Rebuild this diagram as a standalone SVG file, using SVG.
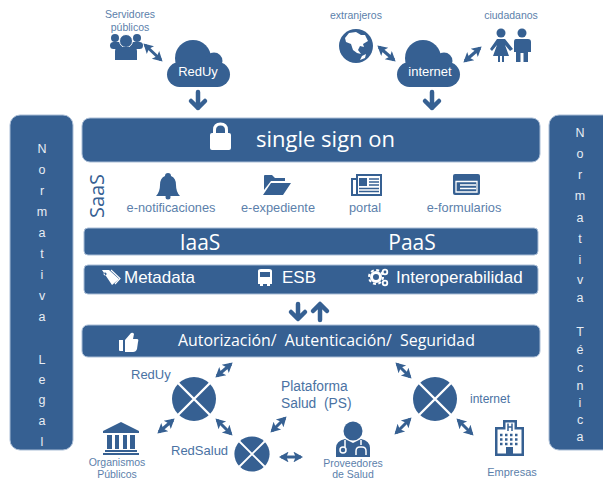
<svg xmlns="http://www.w3.org/2000/svg" xmlns:xlink="http://www.w3.org/1999/xlink" width="603" height="480" viewBox="0 0 603 480">
<style>
.b{fill:#366092;stroke:#a9bdd6;stroke-width:1}
.i{fill:#366092}
.w{fill:#fff}
.ws{fill:none;stroke:#fff;stroke-linecap:butt}
.bs{fill:none;stroke:#366092}
text{font-family:"Liberation Sans",Arial,sans-serif;white-space:pre}
.l{fill:#5c7fab;font-size:10.5px;text-anchor:middle}
.n{fill:#5c7fab;font-size:12.8px;text-anchor:middle}
.m{fill:#4a72a3;font-size:13px}
.o{font-family:"Open Sans","Noto Sans",sans-serif;fill:#fff}
.s{fill:#fff;font-size:17px}
.t{fill:#e8edf4;font-size:12.5px;text-anchor:middle}
.c{fill:#fff;font-size:13px;text-anchor:middle}
.a{fill:none;stroke:#366092;stroke-width:3;marker-start:url(#h);marker-end:url(#h)}
.d{fill:none;stroke:#366092;stroke-width:4.5;stroke-linecap:round;stroke-linejoin:round}
</style>
<defs>
<marker id="h" viewBox="0 0 10 10" refX="8" refY="5" markerWidth="3.6" markerHeight="3.6" orient="auto-start-reverse"><path d="M1 0L10 5L1 10L3 5Z" fill="#366092"/></marker>
<g id="cloud"><rect x="167" y="62" width="63" height="25" rx="12.500" class="i"/><circle cx="193" cy="58" r="18" class="i"/><circle cx="214" cy="61" r="8.500" class="i"/><rect x="185" y="60" width="30" height="10" class="i"/></g>
<g id="hub"><circle r="22" class="i"/><path d="M-16 -16L16 16M-16 16L16 -16" class="ws" stroke-width="2.400"/></g>
</defs>

<g id="normativa-legal"><rect x="10" y="115" width="63" height="335" rx="10" class="b"/>
<text class="t" x="42" y="153">N</text><text class="t" x="42" y="174">o</text><text class="t" x="42" y="195">r</text><text class="t" x="42" y="216">m</text><text class="t" x="42" y="237">a</text><text class="t" x="42" y="258">t</text><text class="t" x="42" y="279">i</text><text class="t" x="42" y="300">v</text><text class="t" x="42" y="321">a</text><text class="t" x="42" y="364">L</text><text class="t" x="42" y="384">e</text><text class="t" x="42" y="404">g</text><text class="t" x="42" y="425">a</text><text class="t" x="42" y="446">l</text></g>
<g id="normativa-tecnica"><rect x="549" y="115" width="70" height="335" rx="10" class="b"/>
<text class="t" x="580" y="137">N</text><text class="t" x="580" y="158">o</text><text class="t" x="580" y="179">r</text><text class="t" x="580" y="200">m</text><text class="t" x="580" y="222">a</text><text class="t" x="580" y="243">t</text><text class="t" x="580" y="264">i</text><text class="t" x="580" y="284">v</text><text class="t" x="580" y="302">a</text><text class="t" x="580" y="336">T</text><text class="t" x="580" y="354">é</text><text class="t" x="580" y="372">c</text><text class="t" x="580" y="390">n</text><text class="t" x="580" y="407">i</text><text class="t" x="580" y="424">c</text><text class="t" x="580" y="441">a</text></g>

<g id="connectors">
<path class="a" d="M145 45L161 60"/><path class="a" d="M379 47L394 60"/><path class="a" d="M480 48L465 61"/>
<path class="d" d="M198 92V108M191 101L198 108L205 101"/><path class="d" d="M432 92V108M425 101L432 108L439 101"/>
<path class="d" d="M298 304V318M291 312L298 319L305 312"/><path class="d" d="M320 320V305M313 311L320 304L327 311"/>
<path class="a" d="M231 364L217 376"/><path class="a" d="M173 420L159 432"/><path class="a" d="M217 420L231 434"/><path class="a" d="M285 418L272 431"/><path class="a" d="M281 457H301"/>
<path class="a" d="M397 364L410 377"/><path class="a" d="M410 419L396 433"/><path class="a" d="M458 420L472 434"/>
</g>

<g id="servidores"><text class="l" x="130" y="18">Servidores</text><text class="l" x="130" y="31">públicos</text>
<circle cx="115" cy="38" r="4" class="i"/><circle cx="137" cy="38" r="4" class="i"/><rect x="110" y="42" width="33" height="7" rx="3.500" class="i"/><circle cx="126" cy="41" r="6.500" class="i" stroke="#fff"/><path d="M115 60V51Q115 47 120 47H132Q137 47 137 51V60H115Z" class="i"/></g>
<g id="reduy-cloud"><use href="#cloud"/><text class="c" x="198" y="76">RedUy</text></g>
<g id="extranjeros"><text class="l" x="356" y="19">extranjeros</text><circle cx="356" cy="46" r="17" class="i"/>
<path class="w" d="M349 33L356 32L361 35L365 35L368 41L363 44L364 47L360 46L358 50L361 54L357 53L353 50L351 44L346 42L345 38ZM362 56L366 54L365 58L360 60Z"/></g>
<g id="internet-cloud"><use href="#cloud" x="230"/><text class="c" x="430" y="76">internet</text></g>
<g id="ciudadanos"><text class="l" x="511" y="19">ciudadanos</text>
<circle cx="501" cy="33" r="4.500" class="i"/><path class="i" d="M497 39H505L513 49L510 51L505 45L509 56H504V62H502V56H500V62H498V56H493L497 45L492 51L490 49Z"/>
<circle cx="522" cy="33" r="4.500" class="i"/><path class="i" d="M516 39H528Q531 39 531 42V52H528V62H523.500V53H520.500V62H516V52H514V42Q514 39 516 39Z"/></g>

<g id="sso"><rect x="82" y="118" width="458" height="44" rx="8" class="b"/>
<path d="M214.500 134V130Q214.500 124 220.500 124Q226.500 124 226.500 130V134" fill="none" stroke="#fff" stroke-width="3"/><rect x="210" y="133" width="21" height="17" rx="2" class="w"/>
<text class="o" x="256" y="147" font-size="22">single sign on</text></g>

<g id="saas"><text font-size="20" fill="#366092" text-anchor="middle" transform="translate(104 196) rotate(-90)" style="font-family:'Open Sans','Noto Sans',sans-serif">SaaS</text></g>
<g id="e-notificaciones"><path class="i" d="M168 173Q171 173 171 176Q176 178 176 185Q176 192 180 196H156Q160 192 160 185Q160 178 165 176Q165 173 168 173Z"/><circle cx="168" cy="197" r="2.500" class="i"/><text class="n" x="171" y="212">e-notificaciones</text></g>
<g id="e-expediente"><path class="i" d="M264 190V176Q264 175 265 175H272L275 178H285V181H271L264 190ZM271 183H291L283 195H263Z"/><text class="n" x="278" y="212">e-expediente</text></g>
<g id="portal"><path class="i" d="M351 178H356V174H382V196H351ZM353 180V194H356V180Z" fill-rule="evenodd"/><rect x="358" y="176" width="22" height="18" class="w"/><rect x="359" y="178" width="8" height="8" class="i"/><path class="bs" d="M369 179H379M369 182H379M369 185H379M359 188.500H379M359 191.500H379" stroke-width="1.300"/><text class="n" x="365" y="212">portal</text></g>
<g id="e-formularios"><rect x="453" y="174" width="27" height="21" rx="2" class="i"/><path class="ws" d="M456 181.500H477V192H456ZM460 185H476M460 188.500H476" stroke-width="1.300"/><text class="n" x="464" y="212">e-formularios</text></g>

<g id="iaas-paas"><rect x="84" y="228" width="454" height="27" rx="4" class="b"/><text class="o" x="200" y="250" font-size="21" text-anchor="middle">IaaS</text><text class="o" x="412" y="250" font-size="21" text-anchor="middle">PaaS</text></g>

<g id="servicios"><rect x="84" y="265" width="454" height="29" rx="4" class="b"/>
<path class="w" d="M102 270H109L119 279L112 285ZM105 272.500A1.500 1.500 0 1 0 105.100 272.500Z" fill-rule="evenodd"/><path d="M111 270L120 278.500L115 284" fill="none" stroke="#fff" stroke-width="1.200"/>
<path class="w" d="M258 271Q258 269 261 269H269Q272 269 272 271V284H270V286H267V284H263V286H260V284H258ZM260 272V277H270V272Z" fill-rule="evenodd"/>
<circle cx="376" cy="277" r="4.500" class="ws" stroke-width="3"/><circle cx="376" cy="277" r="7" class="ws" stroke-width="2" stroke-dasharray="3 2.500"/><circle cx="385" cy="272" r="2.300" class="ws" stroke-width="1.800"/><circle cx="385" cy="283" r="2.300" class="ws" stroke-width="1.800"/>
<text class="s" x="124" y="283">Metadata</text><text class="s" x="282" y="283">ESB</text><text class="s" x="396" y="283">Interoperabilidad</text></g>

<g id="seguridad"><rect x="82" y="325" width="458" height="32" rx="6" class="b"/>
<path class="w" d="M119 340H123V351H120Q119 351 119 350ZM125 340L131 333Q133 332 134 334L133 339H137Q139 339 138 342L137 349Q136 352 133 352H125Z"/>
<text class="o" x="178" y="346" font-size="15.900">Autorización/  Autenticación/  Seguridad</text></g>

<g id="reduy-hub"><use href="#hub" x="194" y="399"/><text class="m" x="131" y="379">RedUy</text></g>
<g id="redsalud-hub"><use href="#hub" transform="translate(252 454) scale(.8)"/><text class="m" x="171" y="455">RedSalud</text></g>
<g id="internet-hub"><use href="#hub" x="435" y="399"/><text class="m" x="470" y="403" style="font-size:12px">internet</text></g>
<g id="plataforma"><text class="m" x="281" y="391" style="font-size:13.800px">Plataforma</text><text class="m" x="281" y="408" style="font-size:13.800px">Salud  (PS)</text></g>

<g id="organismos"><path class="i" d="M121 422L139 431V433H103V431ZM107 435H112V449H107ZM115 435H119V449H115ZM123 435H127V449H123ZM130 435H135V449H130ZM105 450H137V452H105ZM103 453H139V455H103Z"/><text class="l" x="117" y="466">Organismos</text><text class="l" x="117" y="478">Públicos</text></g>
<g id="proveedores"><circle cx="353" cy="431" r="9.500" class="i"/><path class="i" d="M336 457V448Q336 441 345 439L353 443L361 439Q370 441 370 448V457Z"/><circle cx="343" cy="450" r="3" class="ws" stroke-width="1.500"/><path class="ws" d="M345 440V447M361 440V445M356 455V451Q356 447 360 447H362Q366 447 366 451V455" stroke-width="1.500"/><text class="l" x="353" y="467">Proveedores</text><text class="l" x="353" y="478">de Salud</text></g>
<g id="empresas"><path class="i" d="M495 427H503V420H517V427H524V456H495ZM497.500 429.500V453.500H506V447H513V453.500H521.500V429.500H514.500V422.500H505.500V429.500Z" fill-rule="evenodd"/><path d="M508 423.500V431M512 423.500V431M508 427H512" fill="none" stroke="#366092" stroke-width="1.500"/><path d="M500 435H519M500 439.500H519M500 444H519" fill="none" stroke="#366092" stroke-width="2.500" stroke-dasharray="2.500 2.500"/><text class="l" x="512" y="476" style="font-size:11px">Empresas</text></g>
</svg>
